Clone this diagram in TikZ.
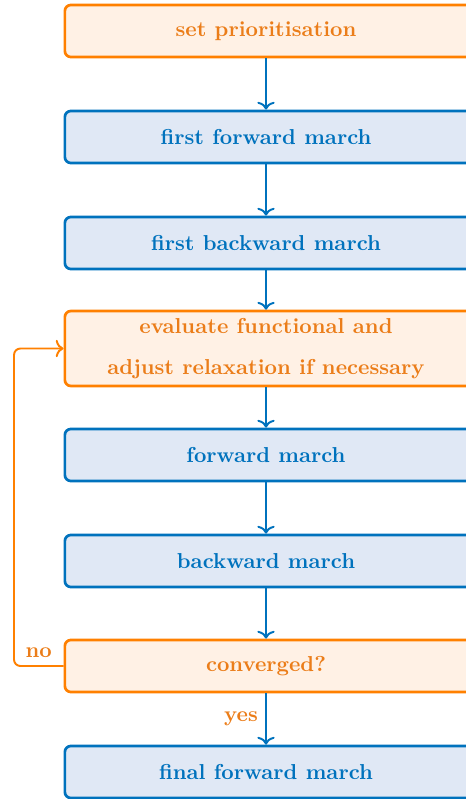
\documentclass[tikz,border=0pt]{standalone}
\usetikzlibrary{arrows.meta}
\definecolor{myorange}{RGB}{255,128,0}
\definecolor{myorangetext}{RGB}{235,125,25}
\definecolor{orangefill}{RGB}{255,241,229}
\definecolor{myblue}{RGB}{0,114,189}
\definecolor{bluefill}{RGB}{224,232,245}
\begin{document}
\begin{tikzpicture}[x=0.463pt,y=-0.463pt,
  box/.style={rectangle,rounded corners=2.8pt,line width=1.25pt,minimum width=200pt,minimum height=24.1pt,inner sep=0pt,anchor=west},
  obox/.style={box,draw=myorange,fill=orangefill},
  bbox/.style={box,draw=myblue,fill=bluefill},
  otxt/.style={font=\bfseries,text=myorangetext,align=center},
  btxt/.style={font=\bfseries,text=myblue,align=center},
  arr/.style={line width=0.9pt,-{To[length=3.6pt,width=8pt]}},
  lbl/.style={font=\bfseries,text=myorangetext}]
\useasboundingbox (0,0) rectangle (465,799);
\coordinate (ax) at (266,0);
\node[obox] (sp) at (63.5,31) {};
\node[bbox] (ffm) at (63.5,137) {};
\node[bbox] (fbm) at (63.5,243) {};
\node[obox,minimum height=34.7pt] (ev) at (63.5,348.5) {};
\node[bbox] (fm) at (63.5,455) {};
\node[bbox] (bm) at (63.5,561) {};
\node[obox] (cv) at (63.5,666) {};
\node[bbox] (fin) at (63.5,772) {};
\node[otxt] (tsp) at (sp -| ax) {set prioritisation};
\node[btxt] (tffm) at (ffm -| ax) {first forward march};
\node[btxt] (tfbm) at (fbm -| ax) {first backward march};
\node[otxt] (tev) at (ev -| ax) {evaluate functional and\\[7pt]adjust relaxation if necessary};
\node[btxt] (tfm) at (fm -| ax) {forward march};
\node[btxt] (tbm) at (bm -| ax) {backward march};
\node[otxt] (tcv) at (cv -| ax) {converged?};
\node[btxt] (tfin) at (fin -| ax) {final forward march};
\draw[arr,myblue] (sp.south -| ax) -- (ffm.north -| ax);
\draw[arr,myblue] (ffm.south -| ax) -- (fbm.north -| ax);
\draw[arr,myblue] (fbm.south -| ax) -- (ev.north -| ax);
\draw[arr,myblue] (ev.south -| ax) -- (fm.north -| ax);
\draw[arr,myblue] (fm.south -| ax) -- (bm.north -| ax);
\draw[arr,myblue] (bm.south -| ax) -- (cv.north -| ax);
\draw[arr,myblue] (cv.south -| ax) -- node[lbl,left] {yes} (fin.north -| ax);
\draw[arr,myorange,rounded corners=3pt] (cv.west) -- node[lbl,above] {no} ++(-49.5,0) |- (ev.west);
\end{tikzpicture}
\end{document}
